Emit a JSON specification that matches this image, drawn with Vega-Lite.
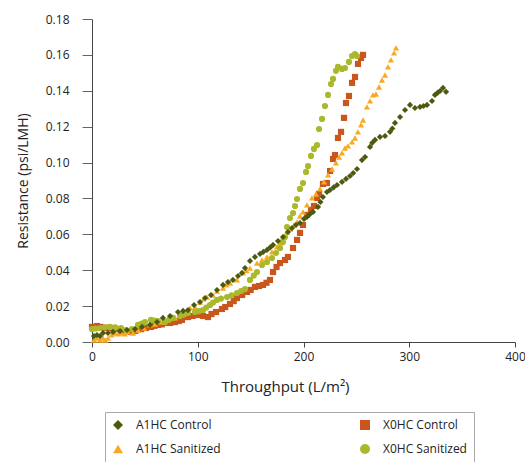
{
  "$schema": "https://vega.github.io/schema/vega-lite/v6.json",
  "width": 423,
  "height": 323,
  "autosize": {"type": "none"},
  "padding": {"left": 92, "top": 19, "right": 10, "bottom": 120},
  "background": "white",
  "config": {
    "view": {"stroke": null},
    "font": "Open Sans"
  },
  "data": {
    "values": [
      {"s":"X0HC Control","x":0,"y":0.0084},{"s":"X0HC Control","x":4.7,"y":0.0089},{"s":"X0HC Control","x":8,"y":0.0084},{"s":"X0HC Control","x":11.3,"y":0.0078},{"s":"X0HC Control","x":15,"y":0.008},{"s":"X0HC Control","x":18.9,"y":0.0078},{"s":"X0HC Control","x":23,"y":0.0072},{"s":"X0HC Control","x":27.4,"y":0.0067},{"s":"X0HC Control","x":32,"y":0.006},{"s":"X0HC Control","x":36.9,"y":0.0056},{"s":"X0HC Control","x":41,"y":0.0062},{"s":"X0HC Control","x":46.3,"y":0.0072},{"s":"X0HC Control","x":51,"y":0.0078},{"s":"X0HC Control","x":55.8,"y":0.0084},{"s":"X0HC Control","x":59,"y":0.009},{"s":"X0HC Control","x":62.4,"y":0.0095},{"s":"X0HC Control","x":66,"y":0.0098},{"s":"X0HC Control","x":69,"y":0.0106},{"s":"X0HC Control","x":74,"y":0.0106},{"s":"X0HC Control","x":78.5,"y":0.0111},{"s":"X0HC Control","x":82,"y":0.0117},{"s":"X0HC Control","x":85.1,"y":0.0123},{"s":"X0HC Control","x":90.8,"y":0.0139},{"s":"X0HC Control","x":95,"y":0.0145},{"s":"X0HC Control","x":100.2,"y":0.015},{"s":"X0HC Control","x":105,"y":0.0145},{"s":"X0HC Control","x":109.7,"y":0.0139},{"s":"X0HC Control","x":113,"y":0.0156},{"s":"X0HC Control","x":117.3,"y":0.0167},{"s":"X0HC Control","x":122.9,"y":0.0184},{"s":"X0HC Control","x":126,"y":0.0195},{"s":"X0HC Control","x":130.5,"y":0.0212},{"s":"X0HC Control","x":134,"y":0.0228},{"s":"X0HC Control","x":137.1,"y":0.0245},{"s":"X0HC Control","x":142,"y":0.0262},{"s":"X0HC Control","x":146.6,"y":0.0279},{"s":"X0HC Control","x":150,"y":0.029},{"s":"X0HC Control","x":154.1,"y":0.0307},{"s":"X0HC Control","x":158,"y":0.0312},{"s":"X0HC Control","x":161.7,"y":0.0318},{"s":"X0HC Control","x":165,"y":0.033},{"s":"X0HC Control","x":168.3,"y":0.0346},{"s":"X0HC Control","x":171.2,"y":0.039},{"s":"X0HC Control","x":174.5,"y":0.0418},{"s":"X0HC Control","x":177.8,"y":0.044},{"s":"X0HC Control","x":182.5,"y":0.0457},{"s":"X0HC Control","x":185.3,"y":0.0474},{"s":"X0HC Control","x":190.1,"y":0.0524},{"s":"X0HC Control","x":193.9,"y":0.0569},{"s":"X0HC Control","x":196.7,"y":0.0608},{"s":"X0HC Control","x":199.5,"y":0.0652},{"s":"X0HC Control","x":203.3,"y":0.0708},{"s":"X0HC Control","x":207.1,"y":0.0736},{"s":"X0HC Control","x":209.9,"y":0.0758},{"s":"X0HC Control","x":212.8,"y":0.0803},{"s":"X0HC Control","x":214.7,"y":0.0825},{"s":"X0HC Control","x":218.4,"y":0.0881},{"s":"X0HC Control","x":222.2,"y":0.0886},{"s":"X0HC Control","x":225.1,"y":0.0953},{"s":"X0HC Control","x":227.9,"y":0.102},{"s":"X0HC Control","x":229.8,"y":0.1042},{"s":"X0HC Control","x":232.6,"y":0.1137},{"s":"X0HC Control","x":235.5,"y":0.1171},{"s":"X0HC Control","x":238.3,"y":0.1249},{"s":"X0HC Control","x":240.2,"y":0.1332},{"s":"X0HC Control","x":243,"y":0.1371},{"s":"X0HC Control","x":245.9,"y":0.1444},{"s":"X0HC Control","x":248.7,"y":0.1477},{"s":"X0HC Control","x":251.5,"y":0.155},{"s":"X0HC Control","x":254.4,"y":0.1583},{"s":"X0HC Control","x":256.3,"y":0.16},

      {"s":"A1HC Sanitized","x":1.9,"y":0.0011},{"s":"A1HC Sanitized","x":4.7,"y":0.0022},{"s":"A1HC Sanitized","x":7.6,"y":0.0011},{"s":"A1HC Sanitized","x":10.4,"y":0.0022},{"s":"A1HC Sanitized","x":12.5,"y":0.0011},{"s":"A1HC Sanitized","x":15.1,"y":0.0022},{"s":"A1HC Sanitized","x":18.5,"y":0.004},{"s":"A1HC Sanitized","x":21.7,"y":0.005},{"s":"A1HC Sanitized","x":24.5,"y":0.0045},{"s":"A1HC Sanitized","x":27.4,"y":0.005},{"s":"A1HC Sanitized","x":31,"y":0.0045},{"s":"A1HC Sanitized","x":34,"y":0.0056},{"s":"A1HC Sanitized","x":38.8,"y":0.005},{"s":"A1HC Sanitized","x":43.5,"y":0.0067},{"s":"A1HC Sanitized","x":49.2,"y":0.0078},{"s":"A1HC Sanitized","x":54.8,"y":0.0095},{"s":"A1HC Sanitized","x":59.6,"y":0.01},{"s":"A1HC Sanitized","x":65.2,"y":0.0111},{"s":"A1HC Sanitized","x":71.9,"y":0.0123},{"s":"A1HC Sanitized","x":78.5,"y":0.0134},{"s":"A1HC Sanitized","x":83.2,"y":0.0156},{"s":"A1HC Sanitized","x":87.9,"y":0.0167},{"s":"A1HC Sanitized","x":92.7,"y":0.019},{"s":"A1HC Sanitized","x":97.4,"y":0.0195},{"s":"A1HC Sanitized","x":102.1,"y":0.0223},{"s":"A1HC Sanitized","x":105.5,"y":0.024},{"s":"A1HC Sanitized","x":108.7,"y":0.0251},{"s":"A1HC Sanitized","x":114.4,"y":0.0262},{"s":"A1HC Sanitized","x":118.2,"y":0.0284},{"s":"A1HC Sanitized","x":123.9,"y":0.0301},{"s":"A1HC Sanitized","x":127,"y":0.0318},{"s":"A1HC Sanitized","x":130.5,"y":0.0329},{"s":"A1HC Sanitized","x":137.1,"y":0.0346},{"s":"A1HC Sanitized","x":142.8,"y":0.0385},{"s":"A1HC Sanitized","x":146,"y":0.0398},{"s":"A1HC Sanitized","x":149.4,"y":0.0412},{"s":"A1HC Sanitized","x":156,"y":0.044},{"s":"A1HC Sanitized","x":160.8,"y":0.0457},{"s":"A1HC Sanitized","x":165.5,"y":0.0474},{"s":"A1HC Sanitized","x":170.2,"y":0.0502},{"s":"A1HC Sanitized","x":174.9,"y":0.053},{"s":"A1HC Sanitized","x":177.8,"y":0.0552},{"s":"A1HC Sanitized","x":180.6,"y":0.0585},{"s":"A1HC Sanitized","x":184.4,"y":0.0613},{"s":"A1HC Sanitized","x":187.2,"y":0.0629},{"s":"A1HC Sanitized","x":191,"y":0.0652},{"s":"A1HC Sanitized","x":193.9,"y":0.0669},{"s":"A1HC Sanitized","x":196.7,"y":0.0702},{"s":"A1HC Sanitized","x":199.5,"y":0.0725},{"s":"A1HC Sanitized","x":203.3,"y":0.0764},{"s":"A1HC Sanitized","x":208,"y":0.0803},{"s":"A1HC Sanitized","x":211.8,"y":0.0825},{"s":"A1HC Sanitized","x":215.6,"y":0.0853},{"s":"A1HC Sanitized","x":219.4,"y":0.0892},{"s":"A1HC Sanitized","x":223.2,"y":0.0931},{"s":"A1HC Sanitized","x":227,"y":0.0964},{"s":"A1HC Sanitized","x":230.7,"y":0.0998},{"s":"A1HC Sanitized","x":233.6,"y":0.1031},{"s":"A1HC Sanitized","x":236.4,"y":0.1054},{"s":"A1HC Sanitized","x":239.2,"y":0.1081},{"s":"A1HC Sanitized","x":242.1,"y":0.1093},{"s":"A1HC Sanitized","x":245.9,"y":0.1115},{"s":"A1HC Sanitized","x":248.7,"y":0.1137},{"s":"A1HC Sanitized","x":251.5,"y":0.1171},{"s":"A1HC Sanitized","x":254.4,"y":0.121},{"s":"A1HC Sanitized","x":256.3,"y":0.1237},{"s":"A1HC Sanitized","x":260,"y":0.131},{"s":"A1HC Sanitized","x":262.9,"y":0.1344},{"s":"A1HC Sanitized","x":265.7,"y":0.1377},{"s":"A1HC Sanitized","x":268.5,"y":0.1382},{"s":"A1HC Sanitized","x":271.4,"y":0.1421},{"s":"A1HC Sanitized","x":274.2,"y":0.146},{"s":"A1HC Sanitized","x":277.1,"y":0.1488},{"s":"A1HC Sanitized","x":279.9,"y":0.1533},{"s":"A1HC Sanitized","x":282.7,"y":0.1572},{"s":"A1HC Sanitized","x":285.6,"y":0.1611},{"s":"A1HC Sanitized","x":287.5,"y":0.1639},

      {"s":"X0HC Sanitized","x":0,"y":0.0072},{"s":"X0HC Sanitized","x":3.5,"y":0.0075},{"s":"X0HC Sanitized","x":7.6,"y":0.0078},{"s":"X0HC Sanitized","x":12,"y":0.0082},{"s":"X0HC Sanitized","x":17,"y":0.0084},{"s":"X0HC Sanitized","x":22,"y":0.0082},{"s":"X0HC Sanitized","x":27.4,"y":0.0078},{"s":"X0HC Sanitized","x":32.2,"y":0.0067},{"s":"X0HC Sanitized","x":37.8,"y":0.0072},{"s":"X0HC Sanitized","x":43.5,"y":0.0095},{"s":"X0HC Sanitized","x":47,"y":0.0103},{"s":"X0HC Sanitized","x":50.1,"y":0.0111},{"s":"X0HC Sanitized","x":55.8,"y":0.0123},{"s":"X0HC Sanitized","x":59,"y":0.012},{"s":"X0HC Sanitized","x":62.4,"y":0.0117},{"s":"X0HC Sanitized","x":69,"y":0.0111},{"s":"X0HC Sanitized","x":73,"y":0.0125},{"s":"X0HC Sanitized","x":76.6,"y":0.0134},{"s":"X0HC Sanitized","x":83.2,"y":0.0145},{"s":"X0HC Sanitized","x":87,"y":0.0153},{"s":"X0HC Sanitized","x":90.8,"y":0.0162},{"s":"X0HC Sanitized","x":97.4,"y":0.0167},{"s":"X0HC Sanitized","x":101,"y":0.0172},{"s":"X0HC Sanitized","x":105,"y":0.0178},{"s":"X0HC Sanitized","x":108,"y":0.0192},{"s":"X0HC Sanitized","x":111.6,"y":0.0206},{"s":"X0HC Sanitized","x":114.5,"y":0.022},{"s":"X0HC Sanitized","x":118.2,"y":0.0234},{"s":"X0HC Sanitized","x":122,"y":0.0242},{"s":"X0HC Sanitized","x":127.7,"y":0.0251},{"s":"X0HC Sanitized","x":132,"y":0.026},{"s":"X0HC Sanitized","x":137.1,"y":0.0273},{"s":"X0HC Sanitized","x":141,"y":0.0284},{"s":"X0HC Sanitized","x":144.7,"y":0.0295},{"s":"X0HC Sanitized","x":149.4,"y":0.0346},{"s":"X0HC Sanitized","x":153,"y":0.037},{"s":"X0HC Sanitized","x":156,"y":0.039},{"s":"X0HC Sanitized","x":160.8,"y":0.0429},{"s":"X0HC Sanitized","x":165.5,"y":0.0446},{"s":"X0HC Sanitized","x":170.2,"y":0.0468},{"s":"X0HC Sanitized","x":174,"y":0.0496},{"s":"X0HC Sanitized","x":177.8,"y":0.0524},{"s":"X0HC Sanitized","x":180.6,"y":0.0557},{"s":"X0HC Sanitized","x":182.5,"y":0.0585},{"s":"X0HC Sanitized","x":184.4,"y":0.0641},{"s":"X0HC Sanitized","x":187.2,"y":0.0691},{"s":"X0HC Sanitized","x":190.1,"y":0.0719},{"s":"X0HC Sanitized","x":192,"y":0.0758},{"s":"X0HC Sanitized","x":193.9,"y":0.0797},{"s":"X0HC Sanitized","x":196.7,"y":0.0853},{"s":"X0HC Sanitized","x":199.5,"y":0.0886},{"s":"X0HC Sanitized","x":202.4,"y":0.0948},{"s":"X0HC Sanitized","x":204.3,"y":0.0981},{"s":"X0HC Sanitized","x":207.1,"y":0.1037},{"s":"X0HC Sanitized","x":209.9,"y":0.1076},{"s":"X0HC Sanitized","x":212.8,"y":0.1098},{"s":"X0HC Sanitized","x":214.7,"y":0.1187},{"s":"X0HC Sanitized","x":217.5,"y":0.1243},{"s":"X0HC Sanitized","x":220.3,"y":0.1315},{"s":"X0HC Sanitized","x":223.2,"y":0.1377},{"s":"X0HC Sanitized","x":226,"y":0.1438},{"s":"X0HC Sanitized","x":227.9,"y":0.1466},{"s":"X0HC Sanitized","x":230.7,"y":0.1511},{"s":"X0HC Sanitized","x":232.6,"y":0.1533},{"s":"X0HC Sanitized","x":236.4,"y":0.1522},{"s":"X0HC Sanitized","x":239.2,"y":0.1527},{"s":"X0HC Sanitized","x":243,"y":0.1561},{"s":"X0HC Sanitized","x":245.9,"y":0.1594},{"s":"X0HC Sanitized","x":248.7,"y":0.1605},{"s":"X0HC Sanitized","x":250.6,"y":0.1594},

      {"s":"A1HC Control","x":1.9,"y":0.0033},{"s":"A1HC Control","x":4.7,"y":0.0039},{"s":"A1HC Control","x":7.6,"y":0.0033},{"s":"A1HC Control","x":10.4,"y":0.005},{"s":"A1HC Control","x":15.1,"y":0.005},{"s":"A1HC Control","x":19.9,"y":0.0056},{"s":"A1HC Control","x":26.5,"y":0.0061},{"s":"A1HC Control","x":33.1,"y":0.0067},{"s":"A1HC Control","x":40.7,"y":0.0072},{"s":"A1HC Control","x":47.3,"y":0.0084},{"s":"A1HC Control","x":54.8,"y":0.0095},{"s":"A1HC Control","x":61.5,"y":0.0111},{"s":"A1HC Control","x":67.1,"y":0.0134},{"s":"A1HC Control","x":73.8,"y":0.0145},{"s":"A1HC Control","x":81.3,"y":0.0167},{"s":"A1HC Control","x":86.1,"y":0.0173},{"s":"A1HC Control","x":90.8,"y":0.0178},{"s":"A1HC Control","x":96.5,"y":0.0206},{"s":"A1HC Control","x":102.1,"y":0.0223},{"s":"A1HC Control","x":106.9,"y":0.0245},{"s":"A1HC Control","x":112.5,"y":0.0262},{"s":"A1HC Control","x":118.2,"y":0.029},{"s":"A1HC Control","x":123.9,"y":0.0318},{"s":"A1HC Control","x":128.6,"y":0.0334},{"s":"A1HC Control","x":133.3,"y":0.0346},{"s":"A1HC Control","x":138.1,"y":0.0368},{"s":"A1HC Control","x":141.8,"y":0.0385},{"s":"A1HC Control","x":144.7,"y":0.0412},{"s":"A1HC Control","x":149.4,"y":0.0452},{"s":"A1HC Control","x":154.1,"y":0.0474},{"s":"A1HC Control","x":158.9,"y":0.0491},{"s":"A1HC Control","x":162,"y":0.0502},{"s":"A1HC Control","x":165.5,"y":0.0513},{"s":"A1HC Control","x":168.5,"y":0.0527},{"s":"A1HC Control","x":171.2,"y":0.0541},{"s":"A1HC Control","x":175.9,"y":0.0563},{"s":"A1HC Control","x":180.6,"y":0.0585},{"s":"A1HC Control","x":185.3,"y":0.0613},{"s":"A1HC Control","x":189.1,"y":0.0635},{"s":"A1HC Control","x":192.9,"y":0.0652},{"s":"A1HC Control","x":196.7,"y":0.0663},{"s":"A1HC Control","x":200.5,"y":0.0686},{"s":"A1HC Control","x":203.3,"y":0.0697},{"s":"A1HC Control","x":206,"y":0.0712},{"s":"A1HC Control","x":209,"y":0.0725},{"s":"A1HC Control","x":213.7,"y":0.0753},{"s":"A1HC Control","x":216,"y":0.078},{"s":"A1HC Control","x":218.4,"y":0.0808},{"s":"A1HC Control","x":222.2,"y":0.0836},{"s":"A1HC Control","x":225.1,"y":0.0847},{"s":"A1HC Control","x":228.5,"y":0.0862},{"s":"A1HC Control","x":231.7,"y":0.0875},{"s":"A1HC Control","x":236.4,"y":0.0892},{"s":"A1HC Control","x":240.2,"y":0.0909},{"s":"A1HC Control","x":244,"y":0.0925},{"s":"A1HC Control","x":247,"y":0.0942},{"s":"A1HC Control","x":250.6,"y":0.0964},{"s":"A1HC Control","x":255.3,"y":0.1014},{"s":"A1HC Control","x":258.2,"y":0.1031},{"s":"A1HC Control","x":262.9,"y":0.1087},{"s":"A1HC Control","x":265,"y":0.111},{"s":"A1HC Control","x":267.6,"y":0.1126},{"s":"A1HC Control","x":272.3,"y":0.1143},{"s":"A1HC Control","x":277.1,"y":0.1148},{"s":"A1HC Control","x":281.8,"y":0.1171},{"s":"A1HC Control","x":284,"y":0.119},{"s":"A1HC Control","x":286.5,"y":0.1221},{"s":"A1HC Control","x":291.3,"y":0.1254},{"s":"A1HC Control","x":296,"y":0.1293},{"s":"A1HC Control","x":300.7,"y":0.1321},{"s":"A1HC Control","x":305.4,"y":0.1304},{"s":"A1HC Control","x":310.2,"y":0.131},{"s":"A1HC Control","x":313.5,"y":0.1315},{"s":"A1HC Control","x":316.8,"y":0.1321},{"s":"A1HC Control","x":321.5,"y":0.1343},{"s":"A1HC Control","x":324.3,"y":0.1377},{"s":"A1HC Control","x":327,"y":0.139},{"s":"A1HC Control","x":329.1,"y":0.1399},{"s":"A1HC Control","x":331.9,"y":0.1416},{"s":"A1HC Control","x":334.8,"y":0.1394}
    ]
  },
  "mark": {"type": "point", "filled": true, "opacity": 1, "size": 38},
  "encoding": {
    "x": {
      "field": "x", "type": "quantitative",
      "scale": {"domain": [0, 400], "nice": false, "zero": true},
      "axis": {
        "title": "Throughput (L/m²)",
        "values": [0, 100, 200, 300, 400],
        "grid": false,
        "labelFlush": false,
        "domainColor": "#444", "tickColor": "#444", "tickSize": 5,
        "labelFontSize": 12, "labelColor": "#222", "labelPadding": 4,
        "titleFontSize": 15, "titleFontWeight": "normal", "titleColor": "#222", "titlePadding": 17,
        "titleX": 193, "titleAnchor": "start", "titleAlign": "center"
      }
    },
    "y": {
      "field": "y", "type": "quantitative",
      "scale": {"domain": [0, 0.18], "nice": false},
      "axis": {
        "title": "Resistance (psi/LMH)",
        "values": [0, 0.02, 0.04, 0.06, 0.08, 0.1, 0.12, 0.14, 0.16, 0.18],
        "format": ".2f",
        "grid": false,
        "labelFlush": false,
        "domainColor": "#444", "tickColor": "#666", "tickSize": 10,
        "labelFontSize": 12, "labelColor": "#222", "labelPadding": 13,
        "titleFontSize": 14, "titleFontWeight": "normal", "titleColor": "#222", "titlePadding": 15
      }
    },
    "color": {
      "field": "s", "type": "nominal",
      "scale": {
        "domain": ["A1HC Control", "A1HC Sanitized", "X0HC Control", "X0HC Sanitized"],
        "range": ["#4b5a0e", "#f8a91f", "#c9561d", "#a9b92b"]
      },
      "legend": {
        "title": null,
        "orient": "none",
        "legendX": 13,
        "legendY": 393,
        "columns": 2,
        "columnPadding": 138,
        "rowPadding": 12,
        "padding": 7,
        "strokeColor": "#aaa",
        "fillColor": "white",
        "symbolSize": 100,
        "symbolStrokeWidth": 0,
        "labelFontSize": 12,
        "labelColor": "#222",
        "labelOffset": 12,
        "labelLimit": 200
      }
    },
    "shape": {
      "field": "s", "type": "nominal",
      "scale": {
        "domain": ["A1HC Control", "A1HC Sanitized", "X0HC Control", "X0HC Sanitized"],
        "range": ["diamond", "triangle-up", "square", "circle"]
      },
      "legend": null
    }
  }
}
